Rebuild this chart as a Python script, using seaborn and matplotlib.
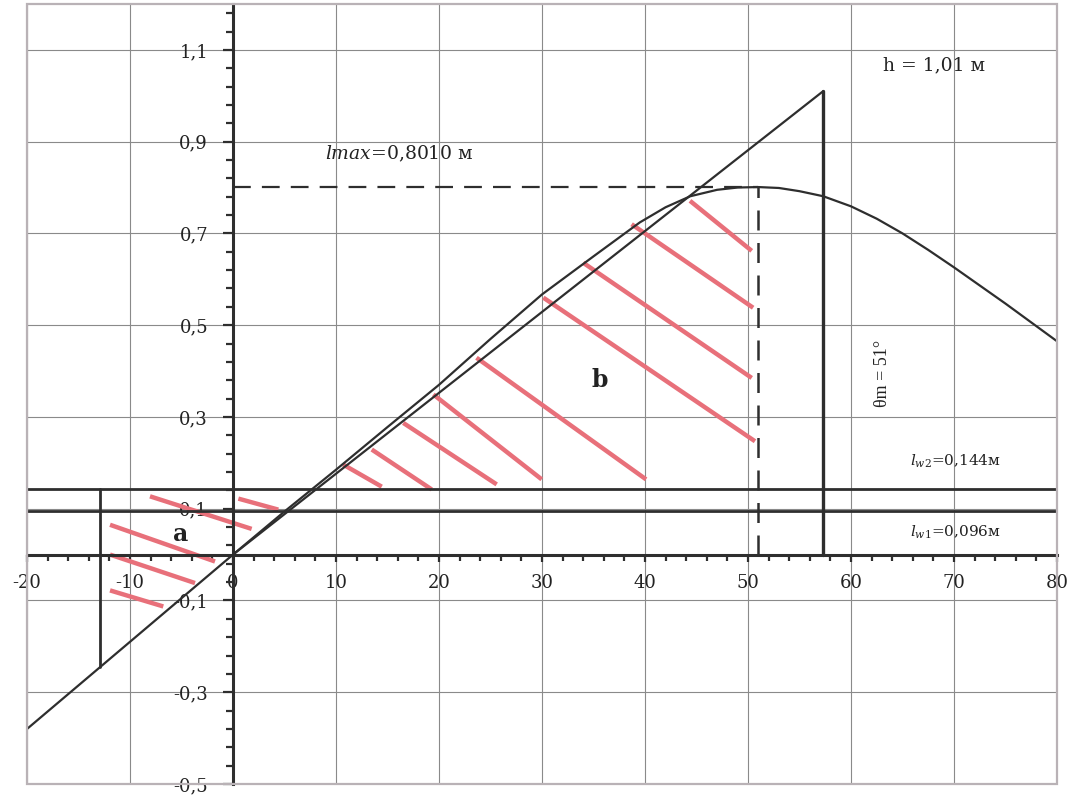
import numpy as np
import matplotlib
matplotlib.use("Agg")
import matplotlib.pyplot as plt
from matplotlib.ticker import FixedLocator, FixedFormatter
from matplotlib.patches import Rectangle
import seaborn as sns

# static stability arm l(theta)
theta = [-20, -10, 0, 5, 10, 15, 20, 25, 30, 35, 39.5, 42, 44.4, 47, 49, 51,
         53, 55, 57.3, 60, 62.5, 65, 67.5, 70, 75, 80]
arm = [-0.38, -0.19, 0.0, 0.094, 0.185, 0.278, 0.37, 0.47, 0.567, 0.65, 0.724,
       0.757, 0.781, 0.795, 0.800, 0.801, 0.799, 0.792, 0.781, 0.759, 0.732,
       0.700, 0.664, 0.626, 0.547, 0.465]

h = 1.01          # metacentric height, m
rad_deg = 57.3    # one radian in degrees
lw1 = 0.096
lw2 = 0.144
l_max = 0.801
theta_m = 51
theta_r = -12.9   # roll amplitude

# red hatching of areas a and b (start / end points)
hatch_x0 = [-8.06, 0.52, -11.94, -11.94, -11.94,
            10.71, 13.47, 16.53, 19.45, 23.64, 30.13, 34.0, 38.7, 44.37]
hatch_y0 = [0.127, 0.122, 0.065, 0.0, -0.078,
            0.196, 0.229, 0.287, 0.349, 0.429, 0.56, 0.636, 0.72, 0.771]
hatch_x1 = [1.81, 4.4, -1.75, -3.69, -6.77,
            14.44, 19.29, 25.6, 29.97, 40.1, 50.68, 50.36, 50.5, 50.36]
hatch_y1 = [0.056, 0.098, -0.015, -0.062, -0.113,
            0.148, 0.142, 0.153, 0.164, 0.164, 0.247, 0.385, 0.538, 0.662]

x_ticks = [-20, -10, 0, 10, 20, 30, 40, 50, 60, 70, 80]
x_labels = ["-20", "-10", "0", "10", "20", "30", "40", "50", "60", "70", "80"]
y_ticks = [-0.5, -0.3, -0.1, 0.1, 0.3, 0.5, 0.7, 0.9, 1.1]
y_labels = ["-0,5", "-0,3", "-0,1", "0,1", "0,3", "0,5", "0,7", "0,9", "1,1"]

sns.set_theme(style="white")
plt.rcParams["font.family"] = ["DejaVu Serif"]
plt.rcParams["mathtext.fontset"] = "dejavuserif"

ink = "#2e2e2e"
red = "#e8707a"

fig = plt.figure(figsize=(10.72, 7.95), dpi=100)
ax = fig.add_axes([0.0252, 0.0138, 0.9608, 0.9812])
ax.set_xlim(-20, 80)
ax.set_ylim(-0.5, 1.2)

# grid
ax.xaxis.set_major_locator(FixedLocator(x_ticks))
ax.xaxis.set_major_formatter(FixedFormatter(x_labels))
ax.yaxis.set_major_locator(FixedLocator(y_ticks))
ax.yaxis.set_major_formatter(FixedFormatter(y_labels))
ax.xaxis.set_minor_locator(FixedLocator(np.arange(-20, 81, 2)))
ax.yaxis.set_minor_locator(FixedLocator(np.arange(-0.5, 1.21, 0.04)))
ax.grid(True, which="major", color="#8a8a8a", lw=0.8)
ax.set_axisbelow(True)

# axes through the origin
for side in ["top", "right"]:
    ax.spines[side].set_visible(False)
ax.spines["left"].set_position(("data", 0))
ax.spines["bottom"].set_position(("data", 0))
for side in ["left", "bottom"]:
    ax.spines[side].set_color(ink)
    ax.spines[side].set_linewidth(2.2)
    ax.spines[side].set_zorder(4)
ax.add_patch(Rectangle((0, 0), 1, 1, transform=ax.transAxes, fill=False,
                       ec="#b9b2b6", lw=1.6, zorder=5, clip_on=False))

ax.tick_params(axis="both", which="both", direction="out", color=ink, width=1.6,
               labelsize=13, labelcolor="#222222")
ax.tick_params(axis="y", which="major", length=7, pad=11, left=True)
ax.tick_params(axis="y", which="minor", length=5, left=True)
ax.tick_params(axis="x", which="major", length=5, pad=9, bottom=True)
ax.tick_params(axis="x", which="minor", length=4, bottom=True)

# hatching
for x0, y0, x1, y1 in zip(hatch_x0, hatch_y0, hatch_x1, hatch_y1):
    ax.plot([x0, x1], [y0, y1], color=red, lw=3.2, solid_capstyle="butt", zorder=2)

# stability curve
sns.lineplot(x=theta, y=arm, ax=ax, color=ink, lw=1.6, zorder=3)

# tangent at origin and h marker
ax.plot([0, rad_deg], [0, h], color=ink, lw=1.6, zorder=3)
ax.plot([rad_deg, rad_deg], [0, h], color=ink, lw=2.4, zorder=3)

# heeling arms
ax.axhline(lw1, color=ink, lw=2.0, zorder=3)
ax.axhline(lw2, color=ink, lw=2.0, zorder=3)
ax.plot([theta_r, theta_r], [np.interp(theta_r, theta, arm), lw2], color=ink, lw=2.0, zorder=3)

# maximum of the curve
ax.plot([0, theta_m], [l_max, l_max], color=ink, lw=1.6, ls=(0, (8, 5)), zorder=3)
ax.plot([theta_m, theta_m], [0, l_max], color=ink, lw=1.8, ls=(0, (8, 5)), zorder=3)

# annotations
ax.text(63.1, 1.066, "h = 1,01 м", fontsize=13.5, va="center", ha="left", color="#222222")
ax.text(8.9, 0.873, r"$\mathit{lmax}$=0,8010 м", fontsize=13.5, va="center", ha="left",
        color="#222222")
ax.text(35.6, 0.38, "b", fontsize=17, fontweight="bold", va="center", ha="center",
        color="#222222")
ax.text(-5.1, 0.045, "a", fontsize=17, fontweight="bold", va="center", ha="center",
        color="#222222")
ax.text(63.1, 0.395, "θm = 51°", fontsize=13, rotation=90, va="center", ha="center",
        family=["Liberation Serif"], color="#222222")
ax.text(65.7, 0.203, r"$\mathit{l_{w2}}$=0,144м", fontsize=11, va="center", ha="left",
        color="#222222")
ax.text(65.7, 0.048, r"$\mathit{l_{w1}}$=0,096м", fontsize=11, va="center", ha="left",
        color="#222222")

fig.savefig("out.png", dpi=100, facecolor="white")
